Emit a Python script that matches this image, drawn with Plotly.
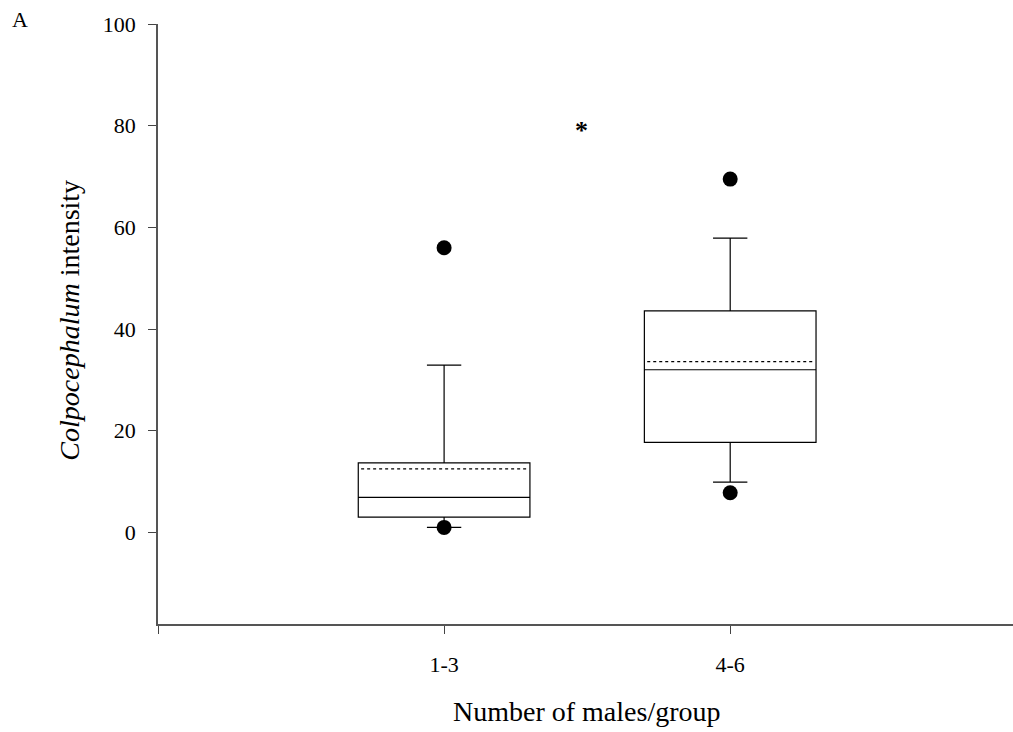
import plotly.graph_objects as go

# ---- data ----
categories = ["1-3", "4-6"]
positions = [1, 2]
q1 = [3.0, 17.7]
median = [6.9, 32.0]
q3 = [13.7, 43.6]
lower_fence = [1.0, 9.9]
upper_fence = [32.9, 57.9]
means = [12.5, 33.6]
outliers_x = [1, 1, 2, 2]
outliers_y = [56.0, 1.0, 69.5, 7.8]
y_ticks = [0, 20, 40, 60, 80, 100]

BOX_W = 0.6
FONT = "Liberation Serif"

fig = go.Figure()

fig.add_trace(go.Box(
    x=positions, q1=q1, median=median, q3=q3,
    lowerfence=lower_fence, upperfence=upper_fence,
    width=BOX_W, whiskerwidth=0.2, boxpoints=False,
    fillcolor="white", line=dict(color="black", width=1.2),
    showlegend=False, hoverinfo="skip",
))

# mean lines (dotted)
mx, my = [], []
for p, m in zip(positions, means):
    mx += [p - BOX_W / 2 + 0.01, p + BOX_W / 2 - 0.01, None]
    my += [m, m, None]
fig.add_trace(go.Scatter(
    x=mx, y=my, mode="lines",
    line=dict(color="black", width=1.2, dash="dot"),
    showlegend=False, hoverinfo="skip",
))

# outliers
fig.add_trace(go.Scatter(
    x=outliers_x, y=outliers_y, mode="markers",
    marker=dict(color="black", size=15),
    showlegend=False, hoverinfo="skip",
))

L, T, B = 158.3, 24, 624
W, H = 1013, 732
pw, ph = W - L, B - T

def px(xp):
    return (xp - L) / pw

def py(yp):
    return (B - yp) / ph

fig.update_layout(
    width=W, height=H,
    margin=dict(l=L, r=0, t=T, b=H - B),
    plot_bgcolor="white", paper_bgcolor="white",
    font=dict(family=FONT, size=22, color="black"),
    xaxis=dict(
        range=[0, pw / 286.0],
        tickvals=[0] + positions, ticktext=[""] + categories,
        ticks="outside", ticklen=8, tickcolor="#444", tickwidth=1,
        showline=True, linecolor="#555", linewidth=1.5,
        showgrid=False, zeroline=False,
        ticklabelstandoff=12,
        tickfont=dict(family=FONT, size=22),
    ),
    yaxis=dict(
        range=[-18, 100],
        tickvals=y_ticks,
        ticks="outside", ticklen=8, tickcolor="#444", tickwidth=1,
        showline=True, linecolor="#555", linewidth=1.5,
        showgrid=False, zeroline=False,
        ticklabelstandoff=8,
        tickfont=dict(family=FONT, size=22),
    ),
    annotations=[
        dict(text="<i>Colpocephalum</i> intensity", textangle=-90,
             x=px(69), y=py(320), xref="paper", yref="paper",
             showarrow=False, font=dict(family=FONT, size=28),
             xanchor="center", yanchor="middle"),
        dict(text="Number of males/group",
             x=px(587), y=py(711), xref="paper", yref="paper",
             showarrow=False, font=dict(family=FONT, size=28),
             xanchor="center", yanchor="middle"),
        dict(text="A", x=px(20), y=py(19), xref="paper", yref="paper",
             showarrow=False, font=dict(family=FONT, size=22),
             xanchor="center", yanchor="middle"),
        dict(text="<b>*</b>", x=1.48, y=79.0, xref="x", yref="y",
             showarrow=False, font=dict(family=FONT, size=26),
             xanchor="center", yanchor="middle"),
    ],
)

fig.write_html("out.html")
